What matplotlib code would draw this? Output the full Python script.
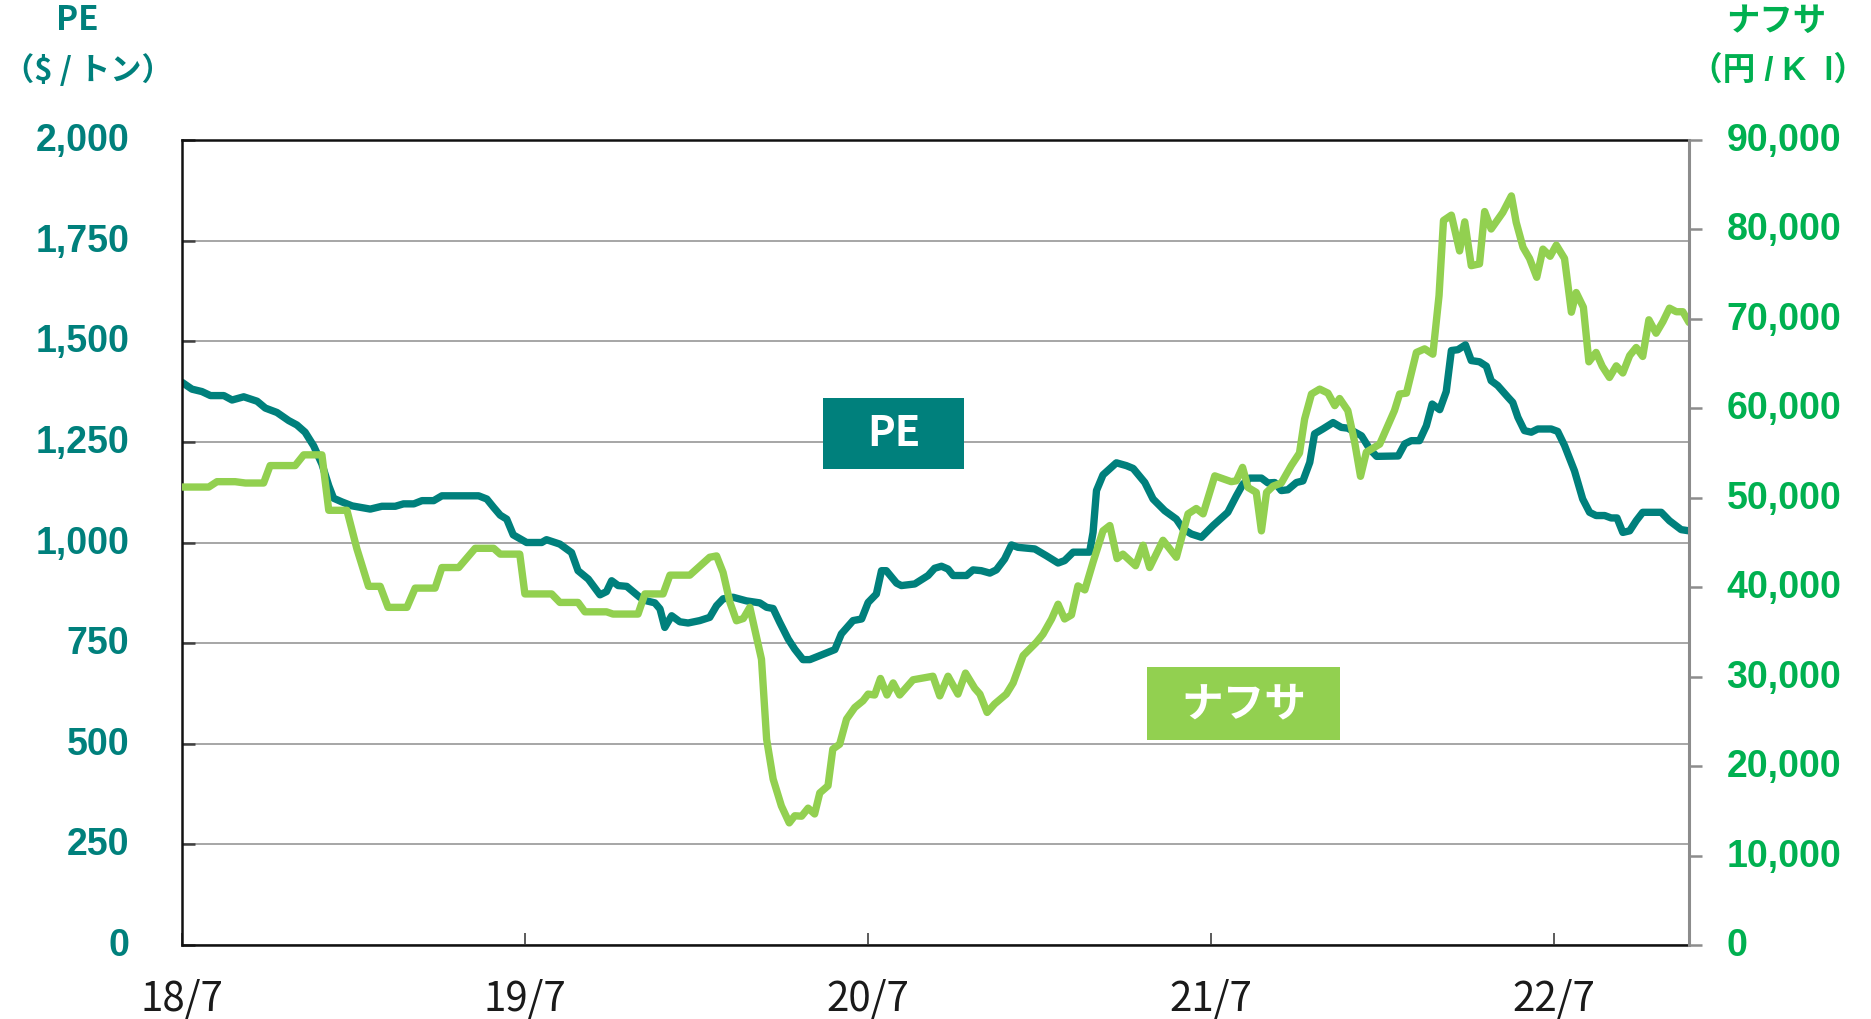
import matplotlib
matplotlib.use("Agg")
import matplotlib.pyplot as plt
from matplotlib.patches import Rectangle

# PE price ($/t), time as decimal year (2018.5 = Jul 2018)
pe_t = [2018.500, 2018.529, 2018.558, 2018.583, 2018.622, 2018.646, 2018.680, 2018.719,
        2018.743, 2018.777, 2018.811, 2018.835, 2018.859, 2018.884, 2018.908, 2018.928,
        2018.942, 2018.966, 2018.996, 2019.049, 2019.083, 2019.122, 2019.146, 2019.176,
        2019.200, 2019.234, 2019.258, 2019.365, 2019.389, 2019.409, 2019.428, 2019.447,
        2019.466, 2019.505, 2019.549, 2019.563, 2019.602, 2019.636, 2019.655, 2019.685,
        2019.719, 2019.738, 2019.753, 2019.772, 2019.797, 2019.835, 2019.855, 2019.879,
        2019.894, 2019.908, 2019.928, 2019.952, 2019.976, 2020.010, 2020.039, 2020.059,
        2020.078, 2020.107, 2020.146, 2020.185, 2020.205, 2020.224, 2020.243, 2020.268,
        2020.287, 2020.311, 2020.331, 2020.360, 2020.404, 2020.423, 2020.457, 2020.482,
        2020.501, 2020.525, 2020.540, 2020.554, 2020.584, 2020.598, 2020.637, 2020.676,
        2020.695, 2020.715, 2020.734, 2020.749, 2020.788, 2020.807, 2020.831, 2020.856,
        2020.875, 2020.899, 2020.919, 2020.938, 2020.987, 2021.021, 2021.055, 2021.074,
        2021.099, 2021.147, 2021.157, 2021.167, 2021.186, 2021.225, 2021.254, 2021.274,
        2021.308, 2021.332, 2021.366, 2021.400, 2021.419, 2021.444, 2021.473, 2021.507,
        2021.550, 2021.575, 2021.594, 2021.614, 2021.648, 2021.667, 2021.687, 2021.706,
        2021.725, 2021.750, 2021.769, 2021.789, 2021.803, 2021.827, 2021.857, 2021.881,
        2021.900, 2021.940, 2021.964, 2021.984, 2022.047, 2022.066, 2022.085, 2022.109,
        2022.129, 2022.146, 2022.168, 2022.187, 2022.202, 2022.221, 2022.243, 2022.260,
        2022.284, 2022.304, 2022.318, 2022.337, 2022.367, 2022.381, 2022.396, 2022.415,
        2022.435, 2022.454, 2022.493, 2022.512, 2022.532, 2022.561, 2022.585, 2022.605,
        2022.624, 2022.649, 2022.668, 2022.685, 2022.702, 2022.722, 2022.741, 2022.760,
        2022.814, 2022.838, 2022.872, 2022.895]
pe_v = [1398, 1381, 1375, 1365, 1365, 1354, 1362, 1351,
        1334, 1323, 1303, 1292, 1274, 1240, 1195, 1141,
        1110, 1101, 1091, 1083, 1090, 1090, 1096, 1096,
        1104, 1104, 1116, 1116, 1108, 1087, 1068, 1058,
        1019, 1000, 1000, 1007, 996, 975, 930, 909,
        870, 878, 905, 893, 891, 864, 855, 850,
        835, 789, 818, 803, 800, 806, 814, 843,
        860, 864, 855, 850, 839, 836, 802, 760,
        735, 709, 709, 719, 734, 773, 806, 810,
        851, 872, 930, 930, 899, 893, 897, 918,
        936, 941, 934, 918, 918, 932, 930, 924,
        932, 959, 994, 988, 984, 967, 949, 955,
        976, 976, 1025, 1129, 1168, 1198, 1191, 1184,
        1149, 1108, 1079, 1058, 1034, 1021, 1013, 1042,
        1075, 1116, 1145, 1160, 1160, 1148, 1149, 1129,
        1131, 1149, 1153, 1199, 1270, 1282, 1298, 1286,
        1284, 1265, 1232, 1214, 1215, 1245, 1253, 1253,
        1290, 1344, 1330, 1375, 1477, 1479, 1491, 1452,
        1449, 1438, 1402, 1390, 1361, 1348, 1311, 1278,
        1274, 1282, 1282, 1276, 1241, 1178, 1108, 1075,
        1067, 1067, 1061, 1061, 1025, 1029, 1054, 1075,
        1075, 1054, 1032, 1029]

# Naphtha price (yen/kl)
nap_t = [2018.500, 2018.578, 2018.602, 2018.655, 2018.685, 2018.738, 2018.757, 2018.830,
         2018.855, 2018.908, 2018.928, 2018.981, 2019.010, 2019.044, 2019.078, 2019.101,
         2019.156, 2019.180, 2019.238, 2019.258, 2019.307, 2019.355, 2019.409, 2019.428,
         2019.485, 2019.500, 2019.578, 2019.602, 2019.655, 2019.675, 2019.738, 2019.757,
         2019.830, 2019.850, 2019.903, 2019.923, 2019.981, 2020.039, 2020.059, 2020.078,
         2020.098, 2020.117, 2020.137, 2020.156, 2020.190, 2020.205, 2020.224, 2020.248,
         2020.271, 2020.287, 2020.307, 2020.326, 2020.345, 2020.360, 2020.384, 2020.398,
         2020.418, 2020.438, 2020.462, 2020.486, 2020.501, 2020.520, 2020.537, 2020.556,
         2020.574, 2020.593, 2020.632, 2020.690, 2020.710, 2020.734, 2020.763, 2020.785,
         2020.812, 2020.827, 2020.848, 2020.870, 2020.904, 2020.924, 2020.953, 2020.992,
         2021.011, 2021.036, 2021.055, 2021.074, 2021.094, 2021.113, 2021.133, 2021.157,
         2021.186, 2021.206, 2021.227, 2021.244, 2021.281, 2021.303, 2021.322, 2021.361,
         2021.400, 2021.434, 2021.458, 2021.478, 2021.512, 2021.560, 2021.575, 2021.593,
         2021.609, 2021.633, 2021.648, 2021.663, 2021.682, 2021.706, 2021.735, 2021.759,
         2021.774, 2021.794, 2021.818, 2021.842, 2021.862, 2021.876, 2021.900, 2021.920,
         2021.937, 2021.954, 2021.993, 2022.036, 2022.051, 2022.071, 2022.100, 2022.124,
         2022.148, 2022.166, 2022.179, 2022.202, 2022.226, 2022.241, 2022.260, 2022.284,
         2022.299, 2022.318, 2022.352, 2022.377, 2022.391, 2022.411, 2022.430, 2022.451,
         2022.469, 2022.490, 2022.508, 2022.532, 2022.552, 2022.566, 2022.587, 2022.603,
         2022.624, 2022.642, 2022.663, 2022.683, 2022.702, 2022.722, 2022.741, 2022.760,
         2022.778, 2022.799, 2022.819, 2022.838, 2022.858, 2022.877, 2022.895]
nap_v = [51200, 51200, 51800, 51800, 51650, 51650, 53600, 53600,
         54800, 54800, 48600, 48600, 44300, 40100, 40100, 37750,
         37750, 39900, 39900, 42200, 42200, 44350, 44350, 43700,
         43700, 39250, 39250, 38300, 38300, 37250, 37250, 37000,
         37000, 39250, 39250, 41350, 41350, 43350, 43500, 41650,
         38300, 36250, 36500, 37750, 31950, 23000, 18550, 15550,
         13650, 14450, 14400, 15300, 14650, 17000, 17800, 21900,
         22450, 25250, 26550, 27300, 28050, 27950, 29800, 27950,
         29300, 27950, 29650, 30050, 27850, 30050, 28050, 30400,
         28700, 28050, 26000, 26950, 28050, 29300, 32350, 33850,
         34750, 36450, 38100, 36450, 36900, 40150, 39700, 42800,
         46300, 46900, 43200, 43700, 42400, 44700, 42200, 45250,
         43350, 48200, 48800, 48200, 52450, 51800, 51900, 53400,
         51150, 50600, 46300, 50600, 51300, 51650, 53600, 55000,
         58800, 61600, 62150, 61700, 60300, 61100, 59750, 56200,
         52400, 55100, 56000, 59750, 61600, 61700, 66250, 66650,
         66050, 72600, 81000, 81600, 77600, 80850, 75950, 76150,
         82000, 80050, 81900, 83750, 80800, 78000, 76750, 74650,
         77800, 77000, 78250, 76750, 70750, 72950, 71300, 65200,
         66250, 64700, 63450, 64750, 63950, 65900, 66800, 65800,
         69900, 68400, 69700, 71200, 70800, 70800, 69600]

x_ticks = [2018.5, 2019.5, 2020.5, 2021.5, 2022.5]
x_labels = ['18/7', '19/7', '20/7', '21/7', '22/7']
pe_ticks = list(range(0, 2001, 250))
nap_ticks = list(range(0, 90001, 10000))

TEAL = '#00807c'
GREEN_LINE = '#92d050'
GREEN_TEXT = '#00b050'
JP = ['Noto Sans CJK JP', 'DejaVu Sans']
NUM = ['Liberation Sans', 'DejaVu Sans']
MIX = ['Liberation Sans', 'Noto Sans CJK JP', 'DejaVu Sans']

fig = plt.figure(figsize=(18.71, 10.20), dpi=100)
ax = fig.add_axes([182 / 1871, 1 - 946 / 1020, 1507 / 1871, 805 / 1020])
ax2 = ax.twinx()

ax.plot(pe_t, pe_v, color=TEAL, lw=5.3, solid_joinstyle='round', solid_capstyle='round')
ax2.plot(nap_t, nap_v, color=GREEN_LINE, lw=5.3, solid_joinstyle='round', solid_capstyle='round')

ax.set_xlim(2018.5, 2022.895)
ax.set_ylim(0, 2000)
ax2.set_ylim(0, 90000)

ax.set_xticks(x_ticks)
ax.set_xticklabels(x_labels, family=JP, fontsize=29, color='#1a1a1a')
ax.set_yticks(pe_ticks)
ax.set_yticklabels([f'{v:,}' for v in pe_ticks], family=NUM, fontsize=27,
                   fontweight='bold', color=TEAL, va='center')
ax2.set_yticks(nap_ticks)
ax2.set_yticklabels([f'{v:,}' for v in nap_ticks], family=NUM, fontsize=27,
                    fontweight='bold', color=GREEN_TEXT, va='center')

ax.grid(axis='y', color='#a6a6a6', lw=1.4)
ax.set_axisbelow(True)

ax.tick_params(axis='y', direction='in', length=9, width=1.8, color='#404040', pad=38)
ax.tick_params(axis='x', direction='in', length=9, width=1.2, color='#404040', pad=24)
ax2.tick_params(axis='y', direction='out', length=9, width=1.8, color='#8c8c8c', pad=18)

for s in ['top', 'left', 'bottom']:
    ax.spines[s].set_color('#111111')
    ax.spines[s].set_linewidth(1.8)
ax.spines['right'].set_visible(False)
for s in ['top', 'left', 'bottom']:
    ax2.spines[s].set_visible(False)
ax2.spines['right'].set_color('#8c8c8c')
ax2.spines['right'].set_linewidth(2.2)

# series labels in boxes
ax2.add_patch(Rectangle((0.4256, 0.5913), 0.0933, 0.0888, transform=ax2.transAxes,
                        facecolor=TEAL, edgecolor='none', zorder=5))
ax2.text(0.4722, 0.6357, 'PE', transform=ax2.transAxes, ha='center', va='center',
         color='white', fontsize=30, fontweight='bold', family=JP, zorder=6)
ax2.add_patch(Rectangle((0.6401, 0.2547), 0.1283, 0.0906, transform=ax2.transAxes,
                        facecolor=GREEN_LINE, edgecolor='none', zorder=5))
ax2.text(0.7043, 0.3000, 'ナフサ', transform=ax2.transAxes, ha='center', va='center',
         color='white', fontsize=30, fontweight='bold', family=JP, zorder=6)

# axis titles
fig.text(77 / 1871, 1 - 21 / 1020, 'PE', ha='center', va='center', color=TEAL,
         fontsize=24, fontweight='bold', family=JP)
fig.text(88 / 1871, 1 - 71 / 1020, '（$ / トン）', ha='center', va='center', color=TEAL,
         fontsize=22.5, fontweight='bold', family=JP)
fig.text(1776 / 1871, 1 - 21 / 1020, 'ナフサ', ha='center', va='center', color=GREEN_TEXT,
         fontsize=24, fontweight='bold', family=JP)
fig.text(1778 / 1871, 1 - 71 / 1020, '（円 / K  l）', ha='center', va='center', color=GREEN_TEXT,
         fontsize=23.5, fontweight='bold', family=MIX)

fig.savefig('out.png', dpi=100)
